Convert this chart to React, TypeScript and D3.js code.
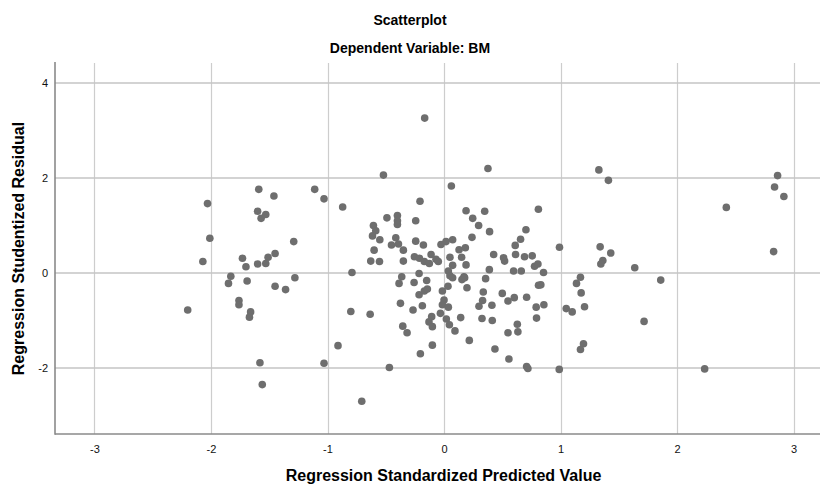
import React, { useEffect, useRef } from 'react';
import * as d3 from 'd3';

// predicted value (standardized) and studentized residual
const predicted = [
  -1.59, -1.46, -1.11, -1.03, -0.87, -2.03, -1.6, -1.53, -1.57, -2.01, -1.29, -2.07,
  -1.73, -1.7, -1.51, -1.45, -1.6, -1.53, -1.83, -1.69, -1.28, -0.79, -1.85, -1.45,
  -1.36, -2.2, -1.76, -1.76, -1.66, -1.67, -0.91, -1.58, -1.03, -1.56, -0.8,
  -0.166, -0.52, 0.377, 0.063, -0.206, 0.189, 0.349, 0.246, 0.297, 0.391, 0.81,
  -0.49, -0.4, -0.4, -0.4, -0.243, -0.606, -0.586, -0.614, -0.551, -0.414, -0.451,
  -0.391, -0.349, -0.6, -0.629, -0.554, -0.349, -0.243, -0.177, -0.254, -0.211,
  -0.169, -0.126, -0.111, -0.069, -0.049, -0.026, 0.017, 0.074, 0.129, 0.183, 0.051,
  0.151, 0.074, 0.189, 0.24, 0.426, 0.511, 0.52, 0.611, 0.657, 0.703, 0.614, 0.691,
  0.757, 0.777, 0.806, 0.597, 0.663, 0.389, -0.363, -0.214, -0.149, 0.037, 0.051,
  0.171, 0.357,
  -0.386, -0.257, -0.214, -0.169, -0.143, -0.014, 0.034, 0.074, 0.154, 0.177, 0.197,
  0.337, 0.331, 0.5, 0.549, 0.603, 0.709, 0.811, 0.791, 0.794, -0.374, -0.186, -0.266,
  0.0, -0.014, 0.037, -0.031, 0.3, 0.411, -0.106, -0.129, -0.1, 0.02, 0.046, 0.143,
  0.326, 0.414, 0.094, 0.217, 0.629, 0.549, 0.634, -0.354, -0.317, -0.1, -0.203,
  0.437, 0.557, 0.709, 0.72, -0.469, -0.706, -0.634,
  1.329, 1.411, 2.863, 2.837, 2.917, 2.423, 2.829, 0.991, 1.34, 1.431, 1.363, 1.346,
  1.637, 0.854, 1.171, 1.86, 1.137, 0.831, 1.177, 0.857, 1.049, 1.1, 1.206, 1.717,
  1.197, 1.171, 0.989, 2.237,
];

const residual = [
  1.76, 1.62, 1.76, 1.56, 1.39, 1.46, 1.3, 1.23, 1.15, 0.73, 0.66, 0.24,
  0.31, 0.13, 0.33, 0.41, 0.19, 0.2, -0.07, -0.17, -0.1, 0.01, -0.22, -0.28,
  -0.35, -0.78, -0.58, -0.67, -0.82, -0.93, -1.53, -1.89, -1.9, -2.35, -0.81,
  3.26, 2.06, 2.2, 1.83, 1.51, 1.31, 1.3, 1.15, 1.0, 0.87, 1.34,
  1.16, 1.21, 1.1, 1.02, 1.1, 1.0, 0.89, 0.78, 0.7, 0.74, 0.59,
  0.61, 0.48, 0.48, 0.25, 0.24, 0.25, 0.67, 0.59, 0.34, 0.31,
  0.24, 0.2, 0.39, 0.29, 0.24, 0.6, 0.66, 0.7, 0.49, 0.53, 0.33,
  0.33, 0.16, 0.17, 0.75, 0.39, 0.32, 0.25, 0.58, 0.71, 0.91, 0.39, 0.34,
  0.36, 0.14, 0.19, 0.04, 0.04, 0.07, -0.08, -0.01, -0.16, 0.04, -0.06,
  -0.08, -0.12,
  -0.22, -0.2, -0.46, -0.38, -0.34, -0.38, -0.28, -0.1, -0.14, -0.1, -0.31,
  -0.4, -0.58, -0.43, -0.59, -0.52, -0.51, -0.26, -0.72, -0.95, -0.64, -0.69, -0.78,
  -0.57, -0.67, -0.72, -0.85, -0.7, -0.68, -0.92, -1.03, -1.13, -0.97, -1.09, -0.94,
  -0.96, -1.0, -1.22, -1.42, -1.08, -1.26, -1.24, -1.12, -1.26, -1.52, -1.7,
  -1.6, -1.81, -1.97, -2.01, -1.99, -2.7, -0.87,
  2.17, 1.95, 2.05, 1.81, 1.61, 1.38, 0.45, 0.54, 0.55, 0.42, 0.26, 0.19,
  0.11, 0.01, -0.09, -0.15, -0.22, -0.25, -0.42, -0.67, -0.75, -0.82, -0.71, -1.02,
  -1.49, -1.61, -2.03, -2.02,
];

const xTicks = [-3, -2, -1, 0, 1, 2, 3];
const yTicks = [-2, 0, 2, 4];

const W = 821;
const H = 484;

export default function App() {
  const svgRef = useRef<SVGSVGElement>(null);

  useEffect(() => {
    const svg = d3.select(svgRef.current);
    svg.selectAll('*').remove();

    const left = 55, right = 820, top = 63, bottom = 434;

    const x = d3.scaleLinear().domain([-3.339, 3.227]).range([left, right]);
    const y = d3.scaleLinear().domain([-3.39, 4.42]).range([bottom, top]);

    svg.append('rect').attr('width', W).attr('height', H).attr('fill', '#fff');

    // grid
    const grid = svg.append('g');
    grid.selectAll('line.v')
      .data(xTicks)
      .enter()
      .append('line')
      .attr('x1', (d) => Math.round(x(d)) + 0.5)
      .attr('x2', (d) => Math.round(x(d)) + 0.5)
      .attr('y1', top)
      .attr('y2', bottom)
      .attr('stroke', '#cdcdcd')
      .attr('stroke-width', 1.2);
    grid.selectAll('line.h')
      .data(yTicks)
      .enter()
      .append('line')
      .attr('x1', left)
      .attr('x2', right)
      .attr('y1', (d) => Math.round(y(d)))
      .attr('y2', (d) => Math.round(y(d)))
      .attr('stroke', '#c4c4c4')
      .attr('stroke-width', 1.5);

    // axes (labels only, SPSS draws no tick marks)
    const font = '"Liberation Sans", Arial, sans-serif';
    const xAxis = d3.axisBottom(x).tickValues(xTicks).tickSize(0).tickPadding(11).tickFormat((d) => String(d));
    const gx = svg.append('g').attr('transform', `translate(0,${bottom})`).call(xAxis);
    const yAxis = d3.axisLeft(y).tickValues(yTicks).tickSize(0).tickPadding(7).tickFormat((d) => String(d));
    const gy = svg.append('g').attr('transform', `translate(${left},0)`).call(yAxis);

    [gx, gy].forEach((g) => {
      g.select('.domain').remove();
      g.selectAll('.tick line').remove();
      g.selectAll('.tick text')
        .attr('fill', '#111')
        .style('font-family', font)
        .style('font-size', '11px');
    });
    svg.append('line')
      .attr('x1', left).attr('x2', left)
      .attr('y1', top - 1).attr('y2', bottom + 0.8)
      .attr('stroke', '#8a8a8a')
      .attr('stroke-width', 1.6);
    svg.append('line')
      .attr('x1', left).attr('x2', right)
      .attr('y1', bottom).attr('y2', bottom)
      .attr('stroke', '#8a8a8a')
      .attr('stroke-width', 1.6);

    // points
    svg.append('g')
      .selectAll('circle')
      .data(predicted.map((p, i) => [p, residual[i]]))
      .enter()
      .append('circle')
      .attr('cx', (d) => x(d[0]))
      .attr('cy', (d) => y(d[1]))
      .attr('r', 3.8)
      .attr('fill', '#6e6e6e');

    svg.append('text')
      .attr('x', 410).attr('y', 25)
      .attr('text-anchor', 'middle')
      .style('font-family', font).style('font-size', '14px').style('font-weight', 'bold')
      .attr('fill', '#000')
      .text('Scatterplot');
    svg.append('text')
      .attr('x', 410).attr('y', 53)
      .attr('text-anchor', 'middle')
      .style('font-family', font).style('font-size', '14px').style('font-weight', 'bold')
      .attr('fill', '#000')
      .text('Dependent Variable: BM');
    svg.append('text')
      .attr('x', (left + right) / 2 + 6).attr('y', 481)
      .attr('text-anchor', 'middle')
      .style('font-family', font).style('font-size', '16px').style('font-weight', 'bold')
      .attr('fill', '#000')
      .text('Regression Standardized Predicted Value');
    svg.append('text')
      .attr('transform', `translate(24,${(top + bottom) / 2}) rotate(-90)`)
      .attr('text-anchor', 'middle')
      .style('font-family', font).style('font-size', '16px').style('font-weight', 'bold')
      .attr('fill', '#000')
      .text('Regression Studentized Residual');
  }, []);

  return (
    <svg
      ref={svgRef}
      width={W}
      height={H}
      style={{ position: 'absolute', left: 0, top: 0 }}
    />
  );
}
